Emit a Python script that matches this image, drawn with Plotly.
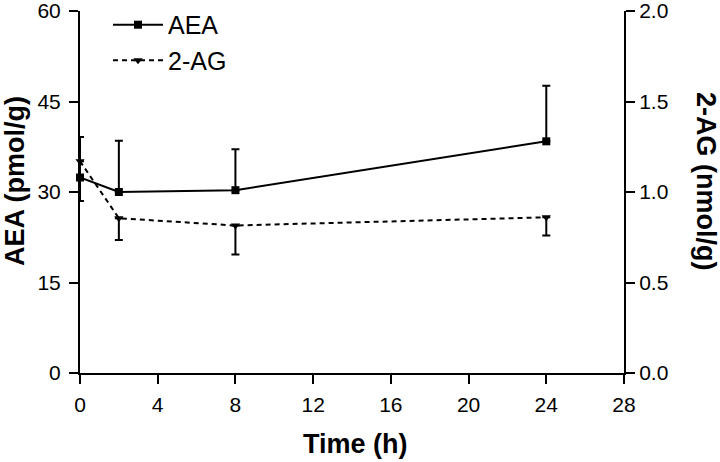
import plotly.graph_objects as go

time_h = [0, 2, 8, 24]
aea = [32.4, 30.0, 30.3, 38.4]
aea_err_up = [6.7, 8.5, 6.8, 9.2]
ag2 = [1.17, 0.855, 0.815, 0.86]
ag2_err_down = [0.22, 0.12, 0.16, 0.10]

x_ticks = [0, 4, 8, 12, 16, 20, 24, 28]
left_ticks = [0, 15, 30, 45, 60]
right_ticks = [0.0, 0.5, 1.0, 1.5, 2.0]
right_labels = ["0.0", "0.5", "1.0", "1.5", "2.0"]

FONT = "Liberation Sans, Arial, sans-serif"
W, H = 720, 462
ML, MR, MT, MB = 80, 96, 11, 89
PW, PH = W - ML - MR, H - MT - MB


def px_to_paper(xp, yp):
    return (xp - ML) / PW, (H - MB - yp) / PH


fig = go.Figure()
fig.add_trace(go.Scatter(
    x=time_h, y=aea, name="AEA", mode="lines+markers",
    line=dict(color="black", width=2),
    marker=dict(symbol="square", size=8, color="black"),
    error_y=dict(type="data", array=aea_err_up, arrayminus=[0] * 4,
                 symmetric=False, color="black", thickness=2, width=4),
    cliponaxis=False, yaxis="y"))
fig.add_trace(go.Scatter(
    x=time_h, y=ag2, name="2-AG", mode="lines+markers",
    line=dict(color="black", width=2, dash="5px,4px"),
    marker=dict(symbol="triangle-down", size=8, color="black"),
    error_y=dict(type="data", array=[0] * 4, arrayminus=ag2_err_down,
                 symmetric=False, color="black", thickness=2, width=4),
    cliponaxis=False, yaxis="y2"))

axis_common = dict(showline=True, linecolor="black", linewidth=2, ticks="outside",
                   ticklen=9, tickwidth=2, tickcolor="black", showgrid=False,
                   zeroline=False, ticklabeloverflow="allow",
                   tickfont=dict(family=FONT, size=21, color="black"))

title_font = dict(family=FONT, size=27, color="black")
tx, ty = px_to_paper(355, 444)
lx, ly = px_to_paper(15, 181)
rx, ry = px_to_paper(706, 181)

fig.update_layout(
    width=W, height=H,
    margin=dict(l=ML, r=MR, t=MT, b=MB, autoexpand=False),
    paper_bgcolor="white", plot_bgcolor="white",
    xaxis=dict(range=[0, 28], tickvals=x_ticks, ticklabelstandoff=3, **axis_common),
    yaxis=dict(range=[0, 60], tickvals=left_ticks, ticklabelstandoff=4, **axis_common),
    yaxis2=dict(range=[0, 2.0], tickvals=right_ticks, ticktext=right_labels,
                overlaying="y", side="right", ticklabelstandoff=0, **axis_common),
    legend=dict(x=px_to_paper(108, 0)[0], y=1.025, xanchor="left", yanchor="top",
                font=dict(family=FONT, size=25, color="black"),
                bgcolor="rgba(0,0,0,0)", itemwidth=50, tracegroupgap=0),
    showlegend=True,
    annotations=[
        dict(text="<b>Time (h)</b>", x=tx, y=ty, xref="paper", yref="paper",
             xanchor="center", yanchor="middle", showarrow=False, font=title_font),
        dict(text="<b>AEA (pmol/g)</b>", x=lx, y=ly, xref="paper", yref="paper",
             xanchor="center", yanchor="middle", textangle=-90, showarrow=False,
             font=title_font),
        dict(text="<b>2-AG (nmol/g)</b>", x=rx, y=ry, xref="paper", yref="paper",
             xanchor="center", yanchor="middle", textangle=90, showarrow=False,
             font=title_font),
    ],
)

fig.write_html("out.html", config={"displayModeBar": False},
               post_script="document.body.style.margin='0';document.body.style.padding='0';")
